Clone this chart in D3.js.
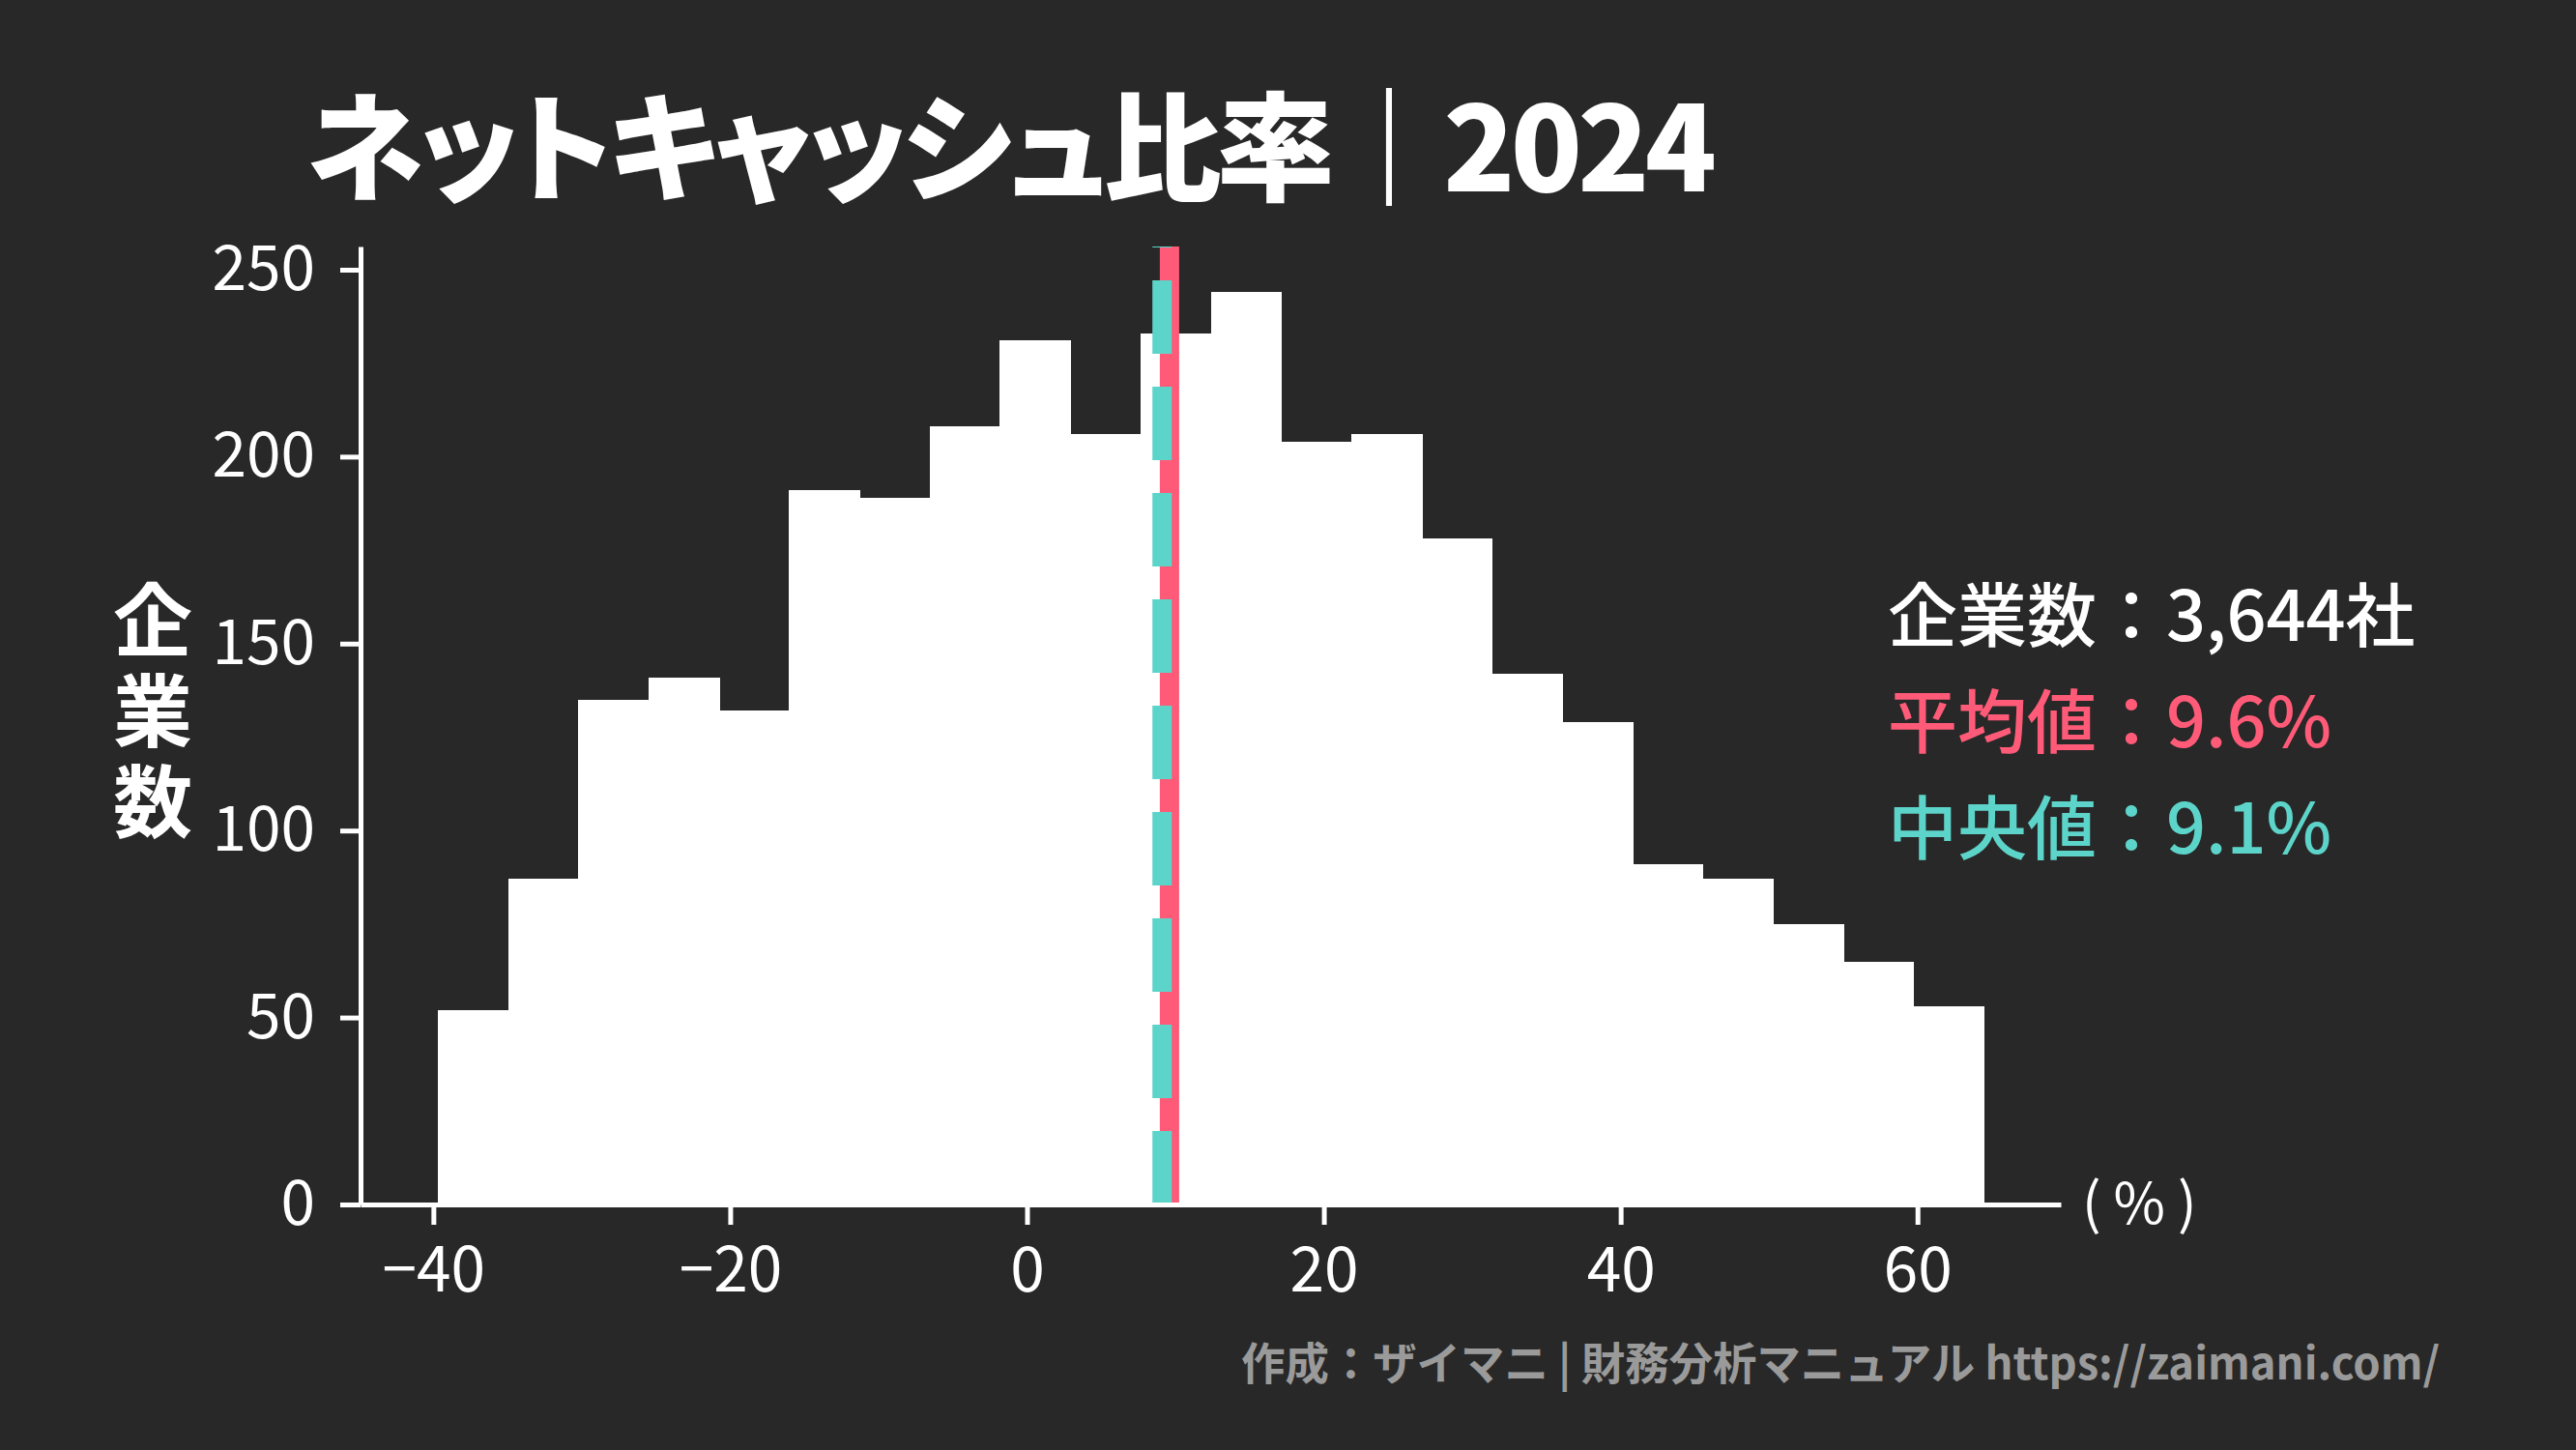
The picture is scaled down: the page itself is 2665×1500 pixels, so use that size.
<!DOCTYPE html>
<html>
<head>
<meta charset="utf-8">
<script src="https://cdn.jsdelivr.net/npm/d3@7"></script>
<style>
  html, body { margin: 0; padding: 0; background: #282828; }
  svg { display: block; }
</style>
</head>
<body>
<div id="chart"></div>
<script>
// histogram of net cash ratio (%) - 22 bins between the min and max shown
var binMin = -39.7
var binMax = 64.45
var counts = [52, 87, 135, 141, 132, 191, 189, 208, 231, 206, 233,
              244, 204, 206, 178, 142, 129, 91, 87, 75, 65, 53]
var meanValue = 9.6
var medianValue = 9.1
var xTicks = [-40, -20, 0, 20, 40, 60]
var yTicks = [0, 50, 100, 150, 200, 250]
var titleText = "ネットキャッシュ比率｜2024"
var yLabel = "企業数"
var infoLines = ["企業数：3,644社", "平均値：9.6%", "中央値：9.1%"]
var footerText = "作成：ザイマニ | 財務分析マニュアル https://zaimani.com/"

var W = 2665, H = 1500
var bg = "#282828", red = "#ff5b78", teal = "#5dd4c9"
var font = '"Noto Sans CJK JP", "Noto Sans", sans-serif'

// axes box (window.top is reserved, so prefixed names)
var axLeft = 373, axRight = 2132, axTop = 255, axBottom = 1246

var binEdges = d3.scaleLinear().domain([0, counts.length]).range([binMin, binMax])
var bins = counts.map(function(c, i) {
  return {x0: binEdges(i), x1: binEdges(i + 1), count: c}
})

// 5% margin on x like matplotlib, 5% headroom on y
var pad = (binMax - binMin) * 0.05
var x = d3.scaleLinear().domain([binMin - pad, binMax + pad]).range([axLeft, axRight])
var y = d3.scaleLinear().domain([0, d3.max(counts) * 1.05]).range([axBottom, axTop])

var svg = d3.select("#chart").append("svg")
  .attr("width", W)
  .attr("height", H)
  .style("font-family", font)

svg.append("rect").attr("width", W).attr("height", H).attr("fill", bg)

// bars
svg.append("g").selectAll("rect")
  .data(bins)
  .enter()
  .append("rect")
    .attr("x", function(d) { return x(d.x0) })
    .attr("y", function(d) { return y(d.count) })
    .attr("width", function(d) { return x(d.x1) - x(d.x0) + 1 })
    .attr("height", function(d) { return y(0) - y(d.count) })
    .attr("fill", "#ffffff")
    .attr("shape-rendering", "crispEdges")

// mean (solid) and median (dashed)
svg.append("line")
  .attr("x1", x(meanValue)).attr("x2", x(meanValue))
  .attr("y1", y(0)).attr("y2", axTop)
  .attr("stroke", red)
  .attr("stroke-width", 20)

svg.append("line")
  .attr("x1", x(medianValue)).attr("x2", x(medianValue))
  .attr("y1", y(0)).attr("y2", axTop)
  .attr("stroke", teal)
  .attr("stroke-width", 20)
  .attr("stroke-dasharray", "76,34")

// axes
var xAxis = svg.append("g")
  .attr("transform", "translate(0," + axBottom + ")")
  .call(d3.axisBottom(x).tickValues(xTicks).tickSize(21).tickSizeOuter(0).tickPadding(24)
    .tickFormat(function(d) { return d < 0 ? "\u2212" + Math.abs(d) : d }))

var yAxis = svg.append("g")
  .attr("transform", "translate(" + axLeft + ",0)")
  .call(d3.axisLeft(y).tickValues(yTicks).tickSize(21).tickSizeOuter(0).tickPadding(26))

;[xAxis, yAxis].forEach(function(g) {
  g.select(".domain").attr("stroke", "#ffffff").attr("stroke-width", 5)
  g.selectAll(".tick line").attr("stroke", "#ffffff").attr("stroke-width", 5)
  g.selectAll(".tick text")
    .attr("fill", "#ffffff")
    .style("font-family", font)
    .style("font-size", "64px")
})

// x unit label
svg.append("text")
  .attr("x", 2154)
  .attr("y", axBottom)
  .attr("dy", "0.35em")
  .attr("fill", "#ffffff")
  .style("font-size", "58px")
  .text("( % )")

// vertical y label, one glyph under the other
svg.append("text")
  .attr("x", 158)
  .attr("y", 600)
  .attr("fill", "#ffffff")
  .style("writing-mode", "vertical-rl")
  .style("text-orientation", "upright")
  .style("letter-spacing", "12px")
  .style("font-size", "82px")
  .style("font-weight", 700)
  .text(yLabel)

// title
svg.append("text")
  .attr("x", 317)
  .attr("y", 198)
  .attr("fill", "#ffffff")
  .attr("textLength", 1459)
  .attr("lengthAdjust", "spacing")
  .style("font-size", "122px")
  .style("font-weight", 900)
  .style("font-feature-settings", '"palt"')
  .text(titleText)

// stats block
var infoColors = ["#ffffff", red, teal]
svg.append("g").selectAll("text")
  .data(infoLines)
  .enter()
  .append("text")
    .attr("x", 1953)
    .attr("y", function(d, i) { return 663 + i * 110 })
    .attr("fill", function(d, i) { return infoColors[i] })
    .style("font-size", "72px")
    .style("font-weight", 500)
    .text(function(d) { return d })

// footer credit
svg.append("text")
  .attr("x", 2524)
  .attr("y", 1427)
  .attr("text-anchor", "end")
  .attr("fill", "#9a9a9a")
  .attr("textLength", 1240)
  .attr("lengthAdjust", "spacingAndGlyphs")
  .style("font-size", "46px")
  .style("font-weight", 700)
  .text(footerText)
</script>
</body>
</html>
